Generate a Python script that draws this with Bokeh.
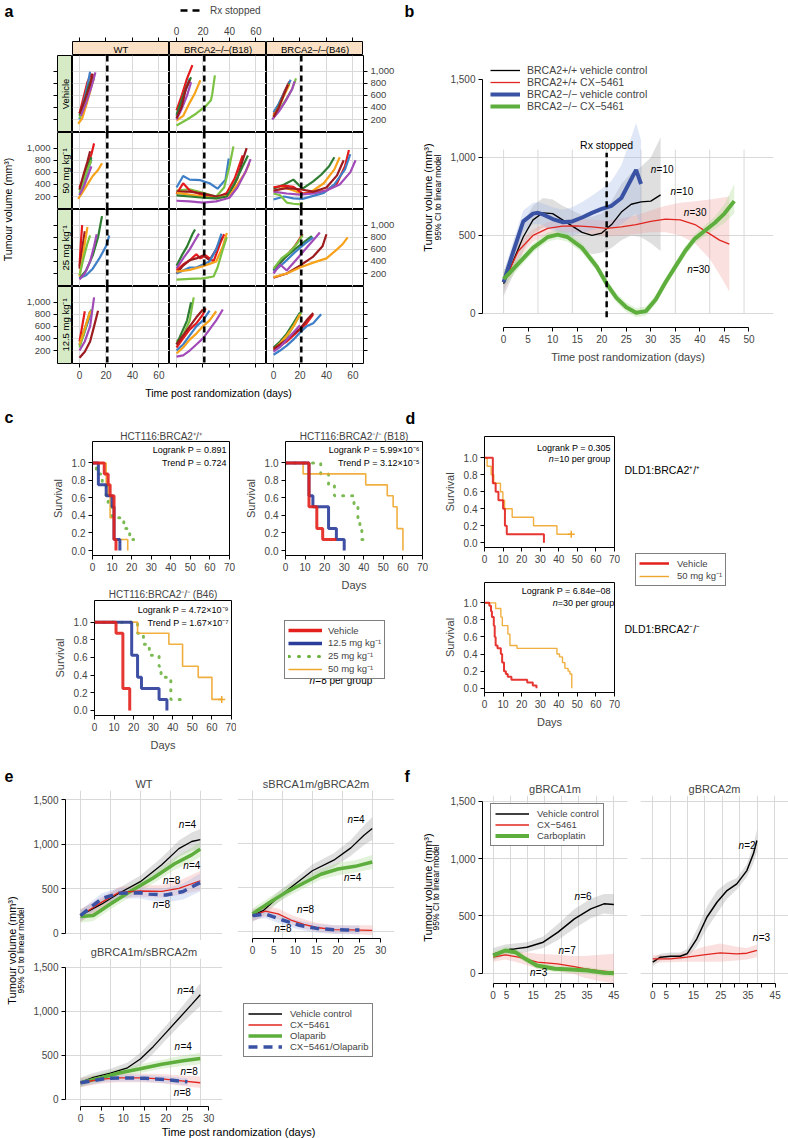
import math
from bokeh.plotting import figure
from bokeh.layouts import row, column
from bokeh.models import (Range1d, LinearAxis, FixedTicker, NumeralTickFormatter,
                          CustomJSTickFormatter, Label, Span, Legend, LegendItem, Spacer, Grid)
from bokeh.embed import file_html
from bokeh.resources import INLINE

FONT = "Liberation Sans"
GRID_C = "#D9D9D9"

# ---------------- panel a data ----------------
A_COLS = ["WT", "BRCA2–/–(B18)", "BRCA2–/–(B46)"]
A_ROWS = ["Vehicle", "50 mg kg⁻¹", "25 mg kg⁻¹", "12.5 mg kg⁻¹"]
A_XTICKS = [0, 20, 40, 60]
A_YTICKS = [200, 400, 600, 800, 1000]
RX_STOP = 21
A_COLORS = {"R": "#E41A1C", "B": "#3F7FC7", "G": "#2E7D32", "L": "#7CC242",
            "O": "#F7A21B", "P": "#A24BB8", "D": "#9B1B1F"}

A_VEH_WT = [("R", [0, 3, 6, 9], [300, 560, 820, 960]),
            ("B", [0, 3, 6, 8], [200, 480, 760, 990]),
            ("G", [0, 4, 7, 10], [260, 520, 760, 920]),
            ("L", [0, 4, 8, 11], [220, 420, 700, 880]),
            ("O", [-1, 2, 5, 8, 10], [130, 220, 430, 660, 860]),
            ("P", [1, 5, 9, 12], [260, 480, 740, 980]),
            ("D", [0, 4, 8, 10], [300, 520, 780, 960])]
A_VEH_B18 = [("R", [0, 4, 8, 12], [350, 600, 880, 1100]),
             ("B", [0, 3, 7, 10], [250, 450, 700, 880]),
             ("G", [0, 4, 8, 11], [280, 520, 760, 900]),
             ("L", [0, 8, 15, 22, 26, 27, 29], [100, 200, 300, 420, 520, 620, 930]),
             ("O", [0, 5, 10, 14, 18], [180, 260, 480, 640, 850]),
             ("P", [0, 4, 8, 11], [200, 380, 600, 820]),
             ("D", [0, 4, 7, 10], [220, 420, 700, 850])]
A_VEH_B46 = [("R", [0, 4, 8, 12], [280, 450, 650, 830]),
             ("B", [0, 4, 8, 13], [320, 460, 640, 860]),
             ("G", [0, 4, 8, 12], [250, 420, 620, 800]),
             ("L", [0, 5, 10, 14, 17], [250, 380, 550, 700, 880]),
             ("O", [0, 4, 8, 12], [260, 400, 600, 780]),
             ("P", [-1, 4, 9, 14, 16], [200, 330, 500, 700, 830]),
             ("D", [0, 4, 8, 11], [240, 400, 620, 780])]
A_50_WT = [("R", [0, 3, 6, 9, 11], [350, 500, 700, 900, 1080]),
           ("B", [0, 3, 6, 9], [220, 420, 620, 810]),
           ("G", [0, 3, 6, 9], [300, 480, 680, 850]),
           ("L", [0, 3, 6, 9], [260, 450, 640, 800]),
           ("O", [-1, 2, 6, 10, 14, 17], [160, 260, 400, 540, 640, 750]),
           ("P", [0, 3, 6, 9], [230, 350, 520, 700]),
           ("D", [0, 3, 6, 8], [320, 560, 780, 950])]
A_50_B18 = [("B", [0, 5, 10, 18, 25, 31, 37, 39.5], [350, 540, 480, 470, 420, 330, 480, 830]),
            ("L", [0, 10, 20, 30, 36, 40, 43], [300, 320, 260, 200, 350, 700, 1030]),
            ("R", [0, 5, 10, 20, 30, 38, 44, 50], [240, 420, 300, 220, 180, 260, 500, 880]),
            ("D", [0, 10, 20, 30, 40, 46, 50, 53], [280, 280, 250, 200, 250, 500, 800, 1000]),
            ("O", [0, 10, 20, 30, 40, 46, 52, 55], [260, 230, 200, 170, 220, 400, 600, 740]),
            ("P", [0, 10, 20, 30, 40, 46, 52, 56], [130, 120, 100, 120, 180, 350, 600, 820]),
            ("G", [0, 10, 20, 30, 38, 44, 50, 54], [220, 200, 180, 170, 200, 420, 700, 880])]
A_50_B46 = [("G", [0, 8, 15, 22, 30, 36, 42, 46], [330, 400, 480, 330, 450, 560, 700, 850]),
            ("O", [0, 8, 15, 22, 30, 38, 46, 50], [280, 350, 300, 240, 300, 420, 650, 850]),
            ("R", [0, 8, 15, 22, 30, 40, 48, 54, 57], [350, 380, 360, 250, 260, 300, 420, 700, 970]),
            ("B", [0, 8, 15, 22, 30, 38, 46, 54, 58], [150, 200, 170, 160, 210, 260, 400, 650, 900]),
            ("L", [0, 5, 10, 15, 20, 22], [250, 220, 100, 80, 70, 100]),
            ("P", [0, 10, 20, 30, 40, 50, 58, 62], [280, 250, 230, 250, 300, 400, 600, 800]),
            ("D", [0, 10, 20, 30, 40, 48, 53], [300, 340, 320, 280, 350, 550, 800])]
A_25_WT = [("R", [0, 1, 2], [320, 700, 1000]),
           ("D", [0, 2, 4], [280, 600, 900]),
           ("O", [0, 2, 4, 6], [150, 400, 700, 970]),
           ("L", [0, 3, 6, 8], [170, 450, 700, 830]),
           ("G", [0, 5, 10, 14, 17], [120, 250, 500, 800, 1150]),
           ("B", [0, 5, 10, 15, 20, 22.5], [120, 170, 280, 450, 650, 830]),
           ("P", [0, 4, 8, 11, 13], [100, 200, 400, 650, 850])]
A_25_B18 = [("G", [0, 4, 8, 12, 14], [330, 500, 650, 850, 930]),
            ("P", [0, 5, 10, 14, 17], [280, 450, 600, 750, 860]),
            ("R", [0, 5, 10, 15, 18, 22, 28, 33, 36], [250, 350, 420, 520, 450, 500, 400, 700, 850]),
            ("D", [0, 5, 10, 15, 20, 25, 30, 34], [200, 330, 420, 450, 500, 420, 600, 800]),
            ("B", [0, 5, 10, 15, 20, 25, 30, 34], [200, 250, 300, 300, 350, 400, 600, 860]),
            ("O", [0, 10, 20, 25, 30, 35, 38], [230, 260, 320, 360, 400, 650, 870]),
            ("L", [0, 10, 20, 28, 31, 35, 38], [100, 110, 120, 150, 300, 600, 800])]
A_25_B46 = [("R", [0, 8, 16, 22], [250, 450, 650, 850]),
            ("D", [0, 10, 20, 30, 37, 40], [130, 200, 330, 480, 650, 850]),
            ("G", [0, 8, 16, 23, 29], [260, 450, 600, 720, 820]),
            ("L", [0, 6, 12, 18, 22], [280, 450, 550, 700, 830]),
            ("B", [0, 8, 16, 24, 30], [230, 380, 550, 700, 800]),
            ("P", [0, 5, 10, 18, 26, 32, 35], [200, 350, 250, 450, 650, 800, 880]),
            ("O", [0, 10, 20, 30, 40, 48, 52, 56], [140, 200, 300, 380, 450, 600, 680, 800])]
A_12_WT = [("R", [0, 2, 4], [350, 600, 850]),
           ("B", [0, 3, 6, 9], [300, 450, 650, 850]),
           ("G", [0, 3, 6, 8], [280, 500, 700, 850]),
           ("L", [0, 3, 6, 9], [250, 450, 700, 880]),
           ("P", [0, 4, 8, 11], [200, 350, 600, 1080]),
           ("O", [0, 3, 6, 8], [300, 500, 700, 850]),
           ("D", [0, 4, 8, 11, 14], [80, 180, 350, 600, 860])]
A_12_B18 = [("L", [0, 5, 10, 13], [350, 450, 700, 1080]),
            ("G", [0, 4, 8, 11], [300, 500, 700, 1000]),
            ("R", [0, 5, 10, 15, 20, 22], [250, 400, 550, 650, 800, 900]),
            ("D", [0, 5, 10, 15, 20], [300, 450, 600, 750, 880]),
            ("B", [0, 5, 10, 15, 20, 25], [200, 300, 450, 600, 700, 860]),
            ("O", [0, 5, 10, 15, 20, 25, 30], [150, 250, 380, 480, 600, 700, 850]),
            ("P", [0, 5, 10, 15, 20, 25, 30, 35], [100, 120, 200, 300, 400, 550, 700, 880])]
A_12_B46 = [("G", [0, 5, 10, 15, 20], [250, 350, 480, 650, 830]),
            ("L", [0, 5, 10, 15, 21], [200, 300, 420, 600, 830]),
            ("O", [0, 5, 10, 15, 20], [220, 320, 450, 600, 800]),
            ("R", [0, 5, 10, 15, 20, 25, 30], [200, 280, 350, 450, 550, 650, 800]),
            ("D", [0, 5, 10, 15, 20, 25, 30], [230, 300, 380, 480, 560, 700, 820]),
            ("B", [0, 5, 10, 15, 20, 25, 30, 36], [130, 200, 280, 380, 500, 600, 650, 800]),
            ("P", [0, 5, 10, 15, 20], [180, 260, 380, 500, 620])]
A_CELLS = [[A_VEH_WT, A_VEH_B18, A_VEH_B46],
           [A_50_WT, A_50_B18, A_50_B46],
           [A_25_WT, A_25_B18, A_25_B46],
           [A_12_WT, A_12_B18, A_12_B46]]

# ---------------- panel b data ----------------
B_VGRID = [0, 7, 14, 21, 28, 35, 42, 49]
B_BLACK_X = [0, 2, 4, 6, 8, 10, 12, 14, 16, 18, 20, 22, 24, 26, 28, 30, 32]
B_BLACK_Y = [190, 340, 490, 600, 645, 640, 600, 560, 520, 500, 515, 570, 650, 700, 715, 720, 760]
B_BLACK_LO = [110, 250, 400, 510, 550, 550, 510, 460, 410, 380, 390, 420, 470, 500, 490, 450, 400]
B_BLACK_HI = [270, 430, 580, 690, 740, 730, 690, 660, 630, 620, 640, 720, 830, 900, 940, 1000, 1130]
B_BLUE_X = [0, 2, 4, 6, 7, 8, 10, 12, 14, 16, 18, 20, 22, 24, 26, 27, 28]
B_BLUE_Y = [200, 400, 590, 640, 645, 635, 605, 585, 590, 615, 645, 670, 690, 740, 860, 920, 830]
B_BLUE_LO = [140, 330, 520, 570, 575, 565, 530, 505, 500, 515, 535, 545, 550, 570, 620, 640, 560]
B_BLUE_HI = [260, 470, 660, 710, 715, 705, 680, 665, 680, 715, 755, 800, 850, 950, 1130, 1220, 1110]
B_RED_X = [0, 3, 6, 9, 12, 15, 18, 21, 24, 27, 30, 33, 36, 39, 42, 44, 46]
B_RED_Y = [200, 400, 500, 545, 560, 562, 555, 545, 555, 570, 590, 605, 600, 570, 510, 470, 445]
B_RED_LO = [140, 350, 460, 505, 520, 520, 510, 495, 500, 510, 520, 520, 500, 450, 350, 250, 140]
B_RED_HI = [260, 450, 540, 585, 600, 605, 600, 595, 610, 630, 660, 690, 710, 720, 730, 740, 750]
B_GREEN_X = [0, 3, 6, 9, 11, 13, 16, 19, 21, 23, 25, 27, 29, 31, 33, 35, 37, 39, 41, 43, 45, 47]
B_GREEN_Y = [220, 320, 420, 490, 505, 490, 420, 300, 190, 100, 40, 5, 15, 90, 200, 300, 400, 480, 530, 580, 640, 720]
B_GREEN_LO = [170, 285, 390, 460, 475, 460, 390, 270, 160, 70, 10, -25, -15, 60, 170, 270, 370, 450, 495, 540, 580, 640]
B_GREEN_HI = [270, 355, 450, 520, 535, 520, 450, 330, 220, 130, 70, 35, 45, 120, 230, 330, 430, 510, 565, 620, 700, 830]

# ---------------- panel c / d data (Kaplan-Meier) ----------------
KM_XTICKS = [0, 10, 20, 30, 40, 50, 60, 70]
KM_YTICKS = [0.0, 0.2, 0.4, 0.6, 0.8, 1.0]
C_WT_VEH_T = [0, 6, 8, 9, 11, 12];             C_WT_VEH_S = [1, .875, .75, .625, .125, 0]
C_WT_12_T = [0, 3, 7, 10, 11, 14];             C_WT_12_S = [1, .75, .625, .5, .125, 0]
C_WT_25_T = [0, 2, 5, 7, 8, 10, 16, 19, 21];   C_WT_25_S = [1, .875, .75, .625, .5, .375, .25, .125, .125]
C_WT_50_T = [0, 7, 8, 9, 11, 18];              C_WT_50_S = [1, .75, .625, .375, .125, 0]
C_B18_VEH_T = [0, 12, 16, 19, 26];             C_B18_VEH_S = [1, .5, .25, .125, .125]
C_B18_12_T = [0, 12, 14, 22, 26, 30];          C_B18_12_S = [1, .625, .5, .25, .125, 0]
C_B18_25_T = [0, 18, 22, 25, 35, 37, 38, 39, 40]; C_B18_25_S = [1, .875, .75, .625, .5, .375, .25, .125, .125]
C_B18_50_T = [0, 9, 41, 52, 55, 57, 60];       C_B18_50_S = [1, .875, .75, .625, .5, .25, 0]
C_B46_VEH_T = [0, 11, 14.5, 18];               C_B46_VEH_S = [1, .875, .25, 0]
C_B46_12_T = [0, 19, 22, 24, 33, 37];          C_B46_12_S = [1, .625, .375, .25, .125, 0]
C_B46_25_T = [0, 22, 25, 28, 33, 34, 39, 47];  C_B46_25_S = [1, .875, .75, .625, .5, .375, .125, .125]
C_B46_50_T = [0, 22, 38, 45, 53, 60, 65];      C_B46_50_S = [1, .875, .75, .5, .375, .125, .125]
C_B46_50_CENS = ([65], [0.125])
D_WT_VEH_T = [0, 4.5, 6, 7.5, 10, 11, 12, 32]
D_WT_VEH_S = [1, .7, .6, .5, .4, .2, .1, 0]
D_WT_50_T = [0, 1.4, 3.6, 5, 8.6, 9.9, 10.8, 14.9, 26.4, 39, 46.7]
D_WT_50_S = [1, .9, .8, .7, .6, .5, .4, .3, .2, .1, .1]
D_WT_50_CENS = ([46.7], [0.1])
D_KO_VEH_T = [0, 2.6, 3.5, 4, 5, 5.5, 6, 7, 8.8, 9.5, 10.5, 11.5, 12.5, 14.5, 23, 26, 28]
D_KO_VEH_S = [1, .967, .9, .833, .733, .6, .5, .467, .4, .3, .2, .167, .133, .1, .067, .033, 0]
D_KO_50_T = [0, 6, 8.8, 9.6, 12.6, 13.7, 17.5, 39, 40.4, 42, 43.3, 45, 46, 47]
D_KO_50_S = [1, .933, .833, .733, .633, .5, .467, .4, .367, .3, .233, .2, .167, 0]

# ---------------- panel e data ----------------
E_VGRID = [0, 7, 14, 21, 28]
E_WT_BLACK_X = [0, 5, 9, 14, 19, 23, 26, 28]
E_WT_BLACK_Y = [200, 330, 450, 580, 770, 950, 1030, 1050]
E_WT_BLACK_LO = [130, 270, 390, 510, 690, 860, 930, 930]
E_WT_BLACK_HI = [270, 390, 510, 650, 850, 1040, 1130, 1170]
E_WT_GREEN_X = [0, 3, 7, 12, 17, 22, 26, 28]
E_WT_GREEN_Y = [190, 200, 330, 480, 620, 780, 880, 945]
E_WT_GREEN_LO = [120, 140, 270, 420, 560, 710, 800, 860]
E_WT_GREEN_HI = [260, 260, 390, 540, 680, 850, 960, 1030]
E_WT_RED_X = [0, 5, 9, 14, 19, 23, 28]
E_WT_RED_Y = [200, 350, 460, 475, 470, 505, 590]
E_WT_RED_LO = [130, 290, 400, 410, 400, 430, 480]
E_WT_RED_HI = [270, 410, 520, 540, 540, 590, 700]
E_WT_BLUE_X = [0, 5, 7, 9, 14, 16, 20, 24, 28]
E_WT_BLUE_Y = [200, 390, 420, 450, 455, 440, 430, 470, 570]
E_WT_BLUE_LO = [140, 330, 360, 390, 390, 370, 350, 380, 470]
E_WT_BLUE_HI = [260, 450, 480, 510, 520, 510, 510, 560, 670]
E_S_BLACK_X = [0, 2.6, 6, 10, 14, 19, 23, 26, 28]
E_S_BLACK_Y = [180, 240, 390, 540, 690, 810, 950, 1090, 1170]
E_S_BLACK_LO = [110, 180, 330, 480, 620, 730, 860, 980, 1040]
E_S_BLACK_HI = [250, 300, 450, 600, 760, 890, 1040, 1200, 1300]
E_S_GREEN_X = [0, 4, 8, 12, 16, 20, 24, 28]
E_S_GREEN_Y = [200, 330, 450, 550, 650, 710, 740, 790]
E_S_GREEN_LO = [140, 270, 390, 490, 590, 640, 670, 710]
E_S_GREEN_HI = [260, 390, 510, 610, 710, 780, 810, 870]
E_S_RED_X = [0, 3, 6, 9, 12, 15, 19, 23, 28]
E_S_RED_Y = [180, 230, 200, 130, 80, 45, 20, 18, 12]
E_S_RED_LO = [120, 170, 140, 80, 30, 0, -25, -30, -40]
E_S_RED_HI = [240, 290, 260, 190, 140, 100, 70, 70, 70]
E_S_BLUE_X = [0, 3, 7, 11, 15, 19, 22, 25]
E_S_BLUE_Y = [180, 200, 130, 70, 35, 20, 18, 18]
E_S_BLUE_LO = [130, 150, 80, 20, -15, -30, -32, -32]
E_S_BLUE_HI = [230, 250, 180, 120, 85, 70, 68, 68]
E_G_BLACK_X = [0, 3, 7, 11, 14, 17, 20, 23, 26, 28]
E_G_BLACK_Y = [195, 250, 300, 360, 460, 600, 760, 920, 1080, 1190]
E_G_BLACK_LO = [140, 200, 250, 300, 390, 520, 680, 830, 970, 1060]
E_G_BLACK_HI = [250, 300, 350, 420, 530, 680, 840, 1010, 1190, 1320]
E_G_GREEN_X = [0, 5, 9, 14, 19, 24, 28]
E_G_GREEN_Y = [190, 250, 300, 350, 400, 440, 466]
E_G_GREEN_LO = [140, 200, 250, 300, 350, 380, 400]
E_G_GREEN_HI = [240, 300, 350, 400, 450, 500, 530]
E_G_RED_X = [0, 5, 9, 14, 19, 23, 28]
E_G_RED_Y = [190, 230, 245, 245, 235, 215, 190]
E_G_RED_LO = [140, 180, 195, 195, 185, 160, 130]
E_G_RED_HI = [240, 280, 295, 295, 290, 275, 260]
E_G_BLUE_X = [0, 6, 11, 15, 20, 25]
E_G_BLUE_Y = [190, 240, 245, 240, 225, 200]
E_G_BLUE_LO = [150, 200, 205, 200, 185, 160]
E_G_BLUE_HI = [230, 280, 285, 280, 265, 240]

# ---------------- panel f data ----------------
F_VGRID = [0, 6.4, 12.8, 19.2, 25.6, 32, 38.4, 44.8]
F_G1_BLACK_X = [0, 4.6, 8, 12.6, 18.7, 24.2, 30.3, 36.4, 41.3, 45]
F_G1_BLACK_Y = [163, 203, 212, 227, 270, 358, 474, 561, 605, 599]
F_G1_BLACK_LO = [110, 160, 170, 185, 220, 290, 390, 480, 520, 510]
F_G1_BLACK_HI = [220, 250, 260, 270, 320, 430, 560, 650, 690, 690]
F_G1_RED_X = [0, 4.6, 9.5, 16.5, 24, 30.3, 34, 40, 45]
F_G1_RED_Y = [140, 160, 140, 96, 81, 58, 40, 20, 8]
F_G1_RED_LO = [100, 120, 90, 40, 20, -10, -40, -70, -90]
F_G1_RED_HI = [180, 200, 190, 170, 160, 150, 150, 160, 170]
F_G1_GREEN_X = [0, 4.6, 8.3, 12, 16.3, 23, 29.1, 35.2, 41.3, 45]
F_G1_GREEN_Y = [154, 198, 183, 125, 67, 38, 32, 23, 3, 0]
F_G1_GREEN_LO = [120, 165, 150, 95, 37, 8, 2, -7, -27, -30]
F_G1_GREEN_HI = [188, 231, 216, 155, 97, 68, 62, 53, 33, 30]
F_G2_BLACK_X = [0, 2.8, 6.5, 10.1, 12.6, 16.2, 19.9, 23.6, 27.3, 30.9, 34.6, 37, 38.3]
F_G2_BLACK_Y = [96, 140, 148, 148, 169, 300, 488, 619, 721, 779, 895, 1041, 1157]
F_G2_BLACK_LO = [60, 110, 120, 120, 130, 230, 390, 520, 650, 730, 840, 960, 1060]
F_G2_BLACK_HI = [130, 170, 180, 180, 210, 380, 580, 720, 790, 830, 950, 1120, 1250]
F_G2_RED_X = [0, 6.5, 12.6, 18.7, 24.8, 30.9, 34.6, 38.3]
F_G2_RED_Y = [125, 125, 140, 160, 177, 169, 174, 198]
F_G2_RED_LO = [90, 95, 100, 100, 100, 110, 120, 140]
F_G2_RED_HI = [160, 155, 180, 230, 260, 230, 220, 250]

# ---------------- colours ----------------
C_BLACK, C_RED, C_BLUE, C_GREEN = "#000000", "#E0261F", "#3A52A4", "#5DAE3C"
BAND_GRAY, BAND_RED, BAND_BLUE, BAND_GREEN = "#9A9A9A", "#F2A0A0", "#9FB3E6", "#A6D98C"
KM_RED, KM_BLUE, KM_GREEN, KM_ORANGE = "#E3201B", "#2A3D9A", "#6DB33F", "#EEA62B"
STRIP_TOP, STRIP_LEFT = "#FAE0C4", "#D6EAC6"


# ---------------- helpers ----------------
def blank(w, h, xr=None, yr=None, bl=0, br=0, bt=0, bb=0):
    p = figure(width=w, height=h, x_range=xr if xr is not None else Range1d(0, 1),
               y_range=yr if yr is not None else Range1d(0, 1),
               output_backend="svg", toolbar_location=None, tools="",
               x_axis_location=None, y_axis_location=None,
               min_border_left=bl, min_border_right=br, min_border_top=bt, min_border_bottom=bb)
    try:
        p.frame_align = False
    except Exception:
        pass
    p.xgrid.visible = False
    p.ygrid.visible = False
    p.outline_line_color = None
    p.background_fill_color = "white"
    p.border_fill_color = "white"
    return p


def canvas(w, h):
    return blank(w, h, Range1d(0, w), Range1d(0, h))


def add_axis(p, side, ticks, fmt=None, show=True, size="10px", bounds=None, line=True,
             label=None, label_size="11px", label_standoff=5):
    ax = LinearAxis(ticker=FixedTicker(ticks=ticks))
    ax.major_tick_in = 0
    ax.major_tick_out = 4
    ax.minor_tick_line_color = None
    ax.axis_line_color = "black" if line else None
    ax.major_label_text_font = FONT
    ax.major_label_text_font_size = size
    ax.major_label_standoff = 3
    ax.axis_label_text_font = FONT
    ax.axis_label_text_font_style = "normal"
    ax.axis_label_text_font_size = label_size
    ax.axis_label_standoff = label_standoff
    if fmt is not None:
        ax.formatter = fmt
    if not show:
        ax.formatter = CustomJSTickFormatter(code="return ''")
    if bounds is not None:
        ax.bounds = bounds
    if label:
        ax.axis_label = label
    p.add_layout(ax, side)
    return ax


def add_grid(p, dim, ticks):
    p.add_layout(Grid(dimension=dim, ticker=FixedTicker(ticks=ticks),
                      grid_line_color=GRID_C, grid_line_width=1))


def txt(p, x, y, s, size="10px", align="left", base="middle", angle=0, style="normal"):
    p.add_layout(Label(x=x, y=y, text=s, text_font=FONT, text_font_size=size,
                       text_align=align, text_baseline=base, angle=angle,
                       text_font_style=style, text_color="black"))


def ctxt(p, x, ytop, s, **kw):
    txt(p, x, p.y_range.end - ytop, s, **kw)


def ntxt(p, x, y, rest, ppu, size=10):
    txt(p, x, y, "n", size=f"{size}px", style="italic")
    txt(p, x + 0.58 * size / ppu, y, rest, size=f"{size}px")


def set_title(p, s, size="10.5px", standoff=2):
    p.title.text = s
    p.title.align = "center"
    p.title.text_font = FONT
    p.title.text_font_size = size
    p.title.text_font_style = "normal"
    p.title.standoff = standoff


def legend(p, items, margin, size="9.5px", gw=30, lh=11, border=True, padding=4, standoff=6):
    lg = Legend(items=items, location="top_left", margin=int(margin), padding=int(padding), spacing=0,
                glyph_width=int(gw), glyph_height=int(lh), label_height=int(lh), label_standoff=int(standoff),
                label_text_font=FONT, label_text_font_size=size,
                border_line_color="black" if border else None, border_line_width=1.2,
                background_fill_color="white", background_fill_alpha=1.0 if border else 0.0)
    p.add_layout(lg)


def key_line(p, **kw):
    # a one-point line draws nothing; it only supplies a legend key
    return p.line(x=[0], y=[0], **kw)


def series(p, specs):
    for x, y, lo, hi, col, lw, bcol, dash in specs:
        p.varea(x=x, y1=lo, y2=hi, fill_color=bcol, fill_alpha=0.32)
    rs = []
    for x, y, lo, hi, col, lw, bcol, dash in specs:
        rs.append(p.line(x=x, y=y, line_color=col, line_width=lw, line_dash=dash))
    return rs


# ================= panel a =================
A_XR = [Range1d(-5.3, 68) for _ in range(3)]
A_YR = [Range1d(-15, 1260) for _ in range(4)]
a_let = canvas(176, 22)
ctxt(a_let, 4, 11, "a", size="16px", style="bold")
a_leg = canvas(224, 22)
r_rx = key_line(a_leg, line_color="black", line_width=2.5, line_dash="7 5")
legend(a_leg, [LegendItem(label="Rx stopped", renderers=[r_rx])], 4, size="10px",
       gw=22, lh=12, border=False, padding=0, standoff=8)

strip_row = [Spacer(width=72, height=33)]
for j in range(3):
    s = blank(97, 33, A_XR[j], Range1d(0, 1), bt=19)
    s.background_fill_color = STRIP_TOP
    s.outline_line_color = "black"
    add_axis(s, "above", A_XTICKS, show=(j == 1), size="10px", line=False)
    txt(s, 31.35, 0.45, A_COLS[j], size="9.5px", align="center")
    strip_row.append(s)

cell_rows = []
for i in range(4):
    last = i == 3
    bb = 20 if last else 0
    h = 77 + bb
    ls = blank(52, h, Range1d(0, 1), A_YR[i], bl=37, bb=bb)
    ls.background_fill_color = STRIP_LEFT
    ls.outline_line_color = "black"
    add_axis(ls, "left", A_YTICKS, fmt=NumeralTickFormatter(format="0,0"),
             show=(i % 2 == 1), size="9.5px", line=False)
    txt(ls, 0.5, 622.5, A_ROWS[i], size="9.5px", align="center", angle=math.pi / 2)
    items = [ls]
    for j in range(3):
        br = 36 if j == 2 else 0
        c = blank(97 + br, h, A_XR[j], A_YR[i], br=br, bb=bb)
        c.outline_line_color = "black"
        add_grid(c, 0, A_XTICKS)
        add_grid(c, 1, A_YTICKS)
        c.add_layout(Span(location=RX_STOP, dimension="height", line_color="black",
                          line_width=2.5, line_dash="6 4"))
        for key, xs, ys in A_CELLS[i][j]:
            c.line(x=xs, y=ys, line_color=A_COLORS[key], line_width=2.2)
        if j == 2:
            add_axis(c, "right", A_YTICKS, fmt=NumeralTickFormatter(format="0,0"),
                     show=(i % 2 == 0), size="9.5px", line=False)
        if last:
            add_axis(c, "below", A_XTICKS, show=(j != 1), size="10px", line=False)
        items.append(c)
    cell_rows.append(row(*items))
a_ytitle = canvas(20, 328)
ctxt(a_ytitle, 7, 154, "Tumour volume (mm³)", size="10.5px", align="center", angle=math.pi / 2)
a_xtitle = canvas(400, 21)
ctxt(a_xtitle, 218, 9, "Time post randomization (days)", size="10.5px", align="center")
a_block = column(row(a_let, a_leg), row(*strip_row), row(a_ytitle, column(*cell_rows)), a_xtitle)

# ================= panel b =================
b_left = canvas(47, 404)
ctxt(b_left, 4, 11, "b", size="16px", style="bold")
ctxt(b_left, 27, 197, "Tumour volume (mm³)", size="11px", align="center", angle=math.pi / 2)
ctxt(b_left, 37.5, 197, "95% CI to linear model", size="8.5px", align="center", angle=math.pi / 2)

pb = blank(341, 404, Range1d(-4.3, 55), Range1d(-90, 1647), bl=35, br=15, bt=56, bb=77)
add_grid(pb, 1, [0, 500, 1000])
pb.segment(x0=B_VGRID, y0=[0] * len(B_VGRID), x1=B_VGRID, y1=[1050] * len(B_VGRID),
           line_color=GRID_C, line_width=1)
rb = series(pb, [
    (B_BLACK_X, B_BLACK_Y, B_BLACK_LO, B_BLACK_HI, C_BLACK, 1.3, BAND_GRAY, "solid"),
    (B_RED_X, B_RED_Y, B_RED_LO, B_RED_HI, C_RED, 1.3, BAND_RED, "solid"),
    (B_BLUE_X, B_BLUE_Y, B_BLUE_LO, B_BLUE_HI, C_BLUE, 4, BAND_BLUE, "solid"),
    (B_GREEN_X, B_GREEN_Y, B_GREEN_LO, B_GREEN_HI, C_GREEN, 4, BAND_GREEN, "solid"),
])
pb.segment(x0=[RX_STOP], y0=[-25], x1=[RX_STOP], y1=[1030], line_color="black",
           line_width=2.5, line_dash="6 4")
txt(pb, RX_STOP, 1080, "Rx stopped", size="10.5px", align="center")
add_axis(pb, "left", [0, 500, 1000, 1500], fmt=NumeralTickFormatter(format="0,0"), bounds=(0, 1500))
add_axis(pb, "below", list(range(0, 51, 5)), bounds=(0, 50), label="Time post randomization (days)")
for x, y, r in [(30, 920, "=10"), (34, 784, "=10"), (36.7, 650, "=30"), (37.4, 280, "=30")]:
    ntxt(pb, x, y, r, 4.907)
legend(pb, [("BRCA2+/+ vehicle control", [rb[0]]), ("BRCA2+/+ CX−5461", [rb[1]]),
            ("BRCA2−/− vehicle control", [rb[2]]), ("BRCA2−/− CX−5461", [rb[3]])],
       8, size="10.5px", gw=30, lh=12, border=False, padding=0, standoff=7)
b_block = row(b_left, pb)


# ================= panel c / d =================
def km(w, h, yr, bl, br, bt, bb, curves, days):
    p = blank(w, h, Range1d(0, 70), Range1d(*yr), bl=bl, br=br, bt=bt, bb=bb)
    p.outline_line_color = "black"
    for t, s, col, lw, dash in curves:
        p.step(x=t, y=s, mode="after", line_color=col, line_width=lw, line_dash=dash,
               line_alpha=0.9, line_cap="round" if dash != "solid" else "butt")
    add_axis(p, "left", KM_YTICKS, fmt=NumeralTickFormatter(format="0.0"), bounds=(0, 1),
             label="Survival", label_size="11px")
    add_axis(p, "below", KM_XTICKS, bounds=(0, 70), label="Days" if days else None)
    return p


DOT = "1 8"
r2_head = canvas(788, 24)
ctxt(r2_head, 4, 13, "c", size="16px", style="bold")
ctxt(r2_head, 405, 14, "d", size="16px", style="bold")

c1 = km(236, 150, (-0.057, 1.245), 92, 7, 12, 23, [
    (C_WT_25_T, C_WT_25_S, KM_GREEN, 3, DOT),
    (C_WT_50_T, C_WT_50_S, KM_ORANGE, 1.6, "solid"),
    (C_WT_12_T, C_WT_12_S, KM_BLUE, 3, "solid"),
    (C_WT_VEH_T, C_WT_VEH_S, KM_RED, 3, "solid")], False)
set_title(c1, "HCT116:BRCA2⁺/⁺", size="10px", standoff=0)
txt(c1, 68.5, 1.143, "Logrank P = 0.891", size="9px", align="right")
txt(c1, 68.5, 0.996, "Trend P = 0.724", size="9px", align="right")

c2 = km(204, 167, (-0.057, 1.245), 49, 18, 12, 40, [
    (C_B18_25_T, C_B18_25_S, KM_GREEN, 3, DOT),
    (C_B18_50_T, C_B18_50_S, KM_ORANGE, 1.6, "solid"),
    (C_B18_12_T, C_B18_12_S, KM_BLUE, 3, "solid"),
    (C_B18_VEH_T, C_B18_VEH_S, KM_RED, 3, "solid")], True)
set_title(c2, "HCT116:BRCA2⁻/⁻ (B18)", size="10px", standoff=0)
txt(c2, 68.5, 1.143, "Logrank P = 5.99×10⁻⁶", size="9px", align="right")
txt(c2, 68.5, 0.996, "Trend P = 3.12×10⁻⁵", size="9px", align="right")

c3 = km(236, 176, (-0.057, 1.245), 94, 5, 22, 39, [
    (C_B46_25_T, C_B46_25_S, KM_GREEN, 3, DOT),
    (C_B46_50_T, C_B46_50_S, KM_ORANGE, 1.6, "solid"),
    (C_B46_12_T, C_B46_12_S, KM_BLUE, 3, "solid"),
    (C_B46_VEH_T, C_B46_VEH_S, KM_RED, 3, "solid")], True)
c3.scatter(x=C_B46_50_CENS[0], y=C_B46_50_CENS[1], marker="cross", size=7, line_color=KM_ORANGE, line_width=1.5)
set_title(c3, "HCT116:BRCA2⁻/⁻ (B46)", size="10px", standoff=2)
txt(c3, 68.5, 1.132, "Logrank P = 4.72×10⁻⁹", size="9px", align="right")
txt(c3, 68.5, 0.985, "Trend P = 1.67×10⁻⁷", size="9px", align="right")

# the legend box of panel c sits at x=284, y=620
legc_box = canvas(156, 134)
lr = [key_line(legc_box, line_color=KM_RED, line_width=3.5),
      key_line(legc_box, line_color=KM_BLUE, line_width=3.5),
      key_line(legc_box, line_color=KM_GREEN, line_width=3, line_dash="1 9", line_cap="round"),
      key_line(legc_box, line_color=KM_ORANGE, line_width=1.6)]
legend(legc_box, [("Vehicle", [lr[0]]), ("12.5 mg kg⁻¹", [lr[1]]), ("25 mg kg⁻¹", [lr[2]]),
                  ("50 mg kg⁻¹", [lr[3]])], 0, size="9.5px", gw=34, lh=12, padding=3, standoff=6)
ntxt(legc_box, 25, 134 - 60, "=8 per group", 1.0, size=10)
legc_wrap = row(Spacer(width=48, height=159), column(Spacer(width=156, height=25), legc_box))

d1 = km(180, 147, (-0.055, 1.25), 43, 6, 8, 28, [
    (D_WT_50_T, D_WT_50_S, KM_ORANGE, 1.4, "solid"),
    (D_WT_VEH_T, D_WT_VEH_S, KM_RED, 2, "solid")], False)
d1.scatter(x=D_WT_50_CENS[0], y=D_WT_50_CENS[1], marker="cross", size=7, line_color=KM_ORANGE, line_width=1.5)
txt(d1, 68, 1.12, "Logrank P = 0.305", size="9px", align="right")
ntxt(d1, 34.6, 0.98, "=10 per group", 1.871, size=9)

d2 = km(180, 179, (-0.05, 1.238), 43, 6, 7, 62, [
    (D_KO_50_T, D_KO_50_S, KM_ORANGE, 1.4, "solid"),
    (D_KO_VEH_T, D_KO_VEH_S, KM_RED, 2, "solid")], True)
txt(d2, 68, 1.133, "Logrank P = 6.84e−08", size="9px", align="right")
ntxt(d2, 36.7, 0.996, "=30 per group", 1.871, size=9)

dr_top = canvas(168, 110)
ctxt(dr_top, 4, 41, "DLD1:BRCA2⁺/⁺", size="10.5px")
dr_bot = canvas(168, 216)
dl = [key_line(dr_bot, line_color=KM_RED, line_width=2.5),
      key_line(dr_bot, line_color=KM_ORANGE, line_width=1.4)]
legend(dr_bot, [("Vehicle", [dl[0]]), ("50 mg kg⁻¹", [dl[1]])], 15, size="9.5px", gw=30, lh=12,
       padding=3, standoff=8)
ctxt(dr_bot, 4, 90, "DLD1:BRCA2⁻/⁻", size="10.5px")

c_block = row(column(c1, c3), column(c2, legc_wrap))
d_block = row(column(d1, d2), column(dr_top, dr_bot))
row2 = column(r2_head, row(c_block, d_block))

# ================= panel e =================
E_XR = (-3.5, 33.2)
E_YR = (-80, 1602)
E_Y_TICKS = [0, 500, 1000, 1500]


def e_plot(w, h, bl, br, bt, bb, specs, title, left, bottom):
    p = blank(w, h, Range1d(*E_XR), Range1d(*E_YR), bl=bl, br=br, bt=bt, bb=bb)
    add_grid(p, 0, E_VGRID)
    add_grid(p, 1, E_Y_TICKS)
    series(p, specs)
    set_title(p, title, size="11px")
    if left:
        add_axis(p, "left", E_Y_TICKS, fmt=NumeralTickFormatter(format="0,0"), bounds=(0, 1500))
    if bottom:
        add_axis(p, "below", [0, 5, 10, 15, 20, 25, 30], bounds=(0, 30))
    return p


e1 = e_plot(200, 186, 35, 8, 36, 0, [
    (E_WT_BLACK_X, E_WT_BLACK_Y, E_WT_BLACK_LO, E_WT_BLACK_HI, C_BLACK, 1.3, BAND_GRAY, "solid"),
    (E_WT_GREEN_X, E_WT_GREEN_Y, E_WT_GREEN_LO, E_WT_GREEN_HI, C_GREEN, 3.5, BAND_GREEN, "solid"),
    (E_WT_RED_X, E_WT_RED_Y, E_WT_RED_LO, E_WT_RED_HI, C_RED, 1.3, BAND_RED, "solid"),
    (E_WT_BLUE_X, E_WT_BLUE_Y, E_WT_BLUE_LO, E_WT_BLUE_HI, C_BLUE, 3.5, BAND_BLUE, "9 6")],
    "WT", True, False)
for x, y, r in [(23, 1223, "=4"), (24, 758, "=4"), (19.3, 598, "=8"), (16.9, 322, "=8")]:
    ntxt(e1, x, y, r, 4.28)
e2 = e_plot(170, 206, 7, 6, 36, 22, [
    (E_S_BLACK_X, E_S_BLACK_Y, E_S_BLACK_LO, E_S_BLACK_HI, C_BLACK, 1.3, BAND_GRAY, "solid"),
    (E_S_GREEN_X, E_S_GREEN_Y, E_S_GREEN_LO, E_S_GREEN_HI, C_GREEN, 3.5, BAND_GREEN, "solid"),
    (E_S_RED_X, E_S_RED_Y, E_S_RED_LO, E_S_RED_HI, C_RED, 1.3, BAND_RED, "solid"),
    (E_S_BLUE_X, E_S_BLUE_Y, E_S_BLUE_LO, E_S_BLUE_HI, C_BLUE, 3.5, BAND_BLUE, "9 6")],
    "sBRCA1m/gBRCA2m", False, True)
for x, y, r in [(22.2, 1269, "=4"), (21.4, 617, "=4"), (10.4, 250, "=8"), (5.1, 38, "=8")]:
    ntxt(e2, x, y, r, 4.28)
e3 = e_plot(200, 184, 35, 8, 18, 18, [
    (E_G_BLACK_X, E_G_BLACK_Y, E_G_BLACK_LO, E_G_BLACK_HI, C_BLACK, 1.3, BAND_GRAY, "solid"),
    (E_G_GREEN_X, E_G_GREEN_Y, E_G_GREEN_LO, E_G_GREEN_HI, C_GREEN, 3.5, BAND_GREEN, "solid"),
    (E_G_RED_X, E_G_RED_Y, E_G_RED_LO, E_G_RED_HI, C_RED, 1.3, BAND_RED, "solid"),
    (E_G_BLUE_X, E_G_BLUE_Y, E_G_BLUE_LO, E_G_BLUE_HI, C_BLUE, 3.5, BAND_BLUE, "9 6")],
    "gBRCA1m/sBRCA2m", True, True)
for x, y, r in [(22.6, 1242, "=4"), (22, 606, "=4"), (23.4, 314, "=8"), (21.8, 83, "=8")]:
    ntxt(e3, x, y, r, 4.28)

lege = blank(170, 164, bt=30)
el = [key_line(lege, line_color=C_BLACK, line_width=1.5),
      key_line(lege, line_color=C_RED, line_width=1.3),
      key_line(lege, line_color=C_GREEN, line_width=3.5),
      key_line(lege, line_color=C_BLUE, line_width=3.5, line_dash="9 6")]
legend(lege, [("Vehicle control", [el[0]]), ("CX−5461", [el[1]]), ("Olaparib", [el[2]]),
              ("CX−5461/Olaparib", [el[3]])], 13, size="9.5px", gw=34, lh=11, padding=4, standoff=8)

ylab_e = canvas(30, 370)
ctxt(ylab_e, 4, 21, "e", size="16px", style="bold")
ctxt(ylab_e, 11, 196, "Tumour volume (mm³)", size="11px", align="center", angle=math.pi / 2)
ctxt(ylab_e, 20.5, 196, "95% CI to linear model", size="8.5px", align="center", angle=math.pi / 2)
xt_e = canvas(400, 14)
ctxt(xt_e, 238, 7, "Time post randomization (days)", size="11px", align="center")

e_block = column(row(ylab_e, column(e1, e3), column(e2, lege)), xt_e)

# ================= panel f =================
F_YR = (-90, 1550)
F_XTICKS = [0, 5, 10, 15, 20, 25, 30, 35, 40, 45]
F_FMT = CustomJSTickFormatter(code="return [0, 5, 15, 25, 35, 45].includes(tick) ? String(tick) : ''")


def f_plot(w, bl, br, xr, specs, title, left):
    p = blank(w, 300, Range1d(*xr), Range1d(*F_YR), bl=bl, br=br, bt=41, bb=71)
    add_grid(p, 0, F_VGRID)
    add_grid(p, 1, E_Y_TICKS)
    rs = series(p, specs)
    set_title(p, title, size="11px")
    if left:
        add_axis(p, "left", E_Y_TICKS, fmt=NumeralTickFormatter(format="0,0"), bounds=(0, 1500))
    add_axis(p, "below", F_XTICKS, fmt=F_FMT, bounds=(0, 45))
    return p, rs


f_left = canvas(47, 300)
ctxt(f_left, 4, 22, "f", size="16px", style="bold")
ctxt(f_left, 27, 133, "Tumour volume (mm³)", size="11px", align="center", angle=math.pi / 2)
ctxt(f_left, 35.5, 133, "95% CI to linear model", size="8.5px", align="center", angle=math.pi / 2)
f1, fr = f_plot(185, 33, 5, (-3.93, 50.07), [
    (F_G1_BLACK_X, F_G1_BLACK_Y, F_G1_BLACK_LO, F_G1_BLACK_HI, C_BLACK, 1.5, BAND_GRAY, "solid"),
    (F_G1_RED_X, F_G1_RED_Y, F_G1_RED_LO, F_G1_RED_HI, C_RED, 1.3, BAND_RED, "solid"),
    (F_G1_GREEN_X, F_G1_GREEN_Y, F_G1_GREEN_LO, F_G1_GREEN_HI, C_GREEN, 4, BAND_GREEN, "solid")],
    "gBRCA1m", True)
legend(f1, [("Vehicle control", [fr[0]]), ("CX−5461", [fr[1]]), ("Carboplatin", [fr[2]])],
       8, size="9.5px", gw=34, lh=11, padding=4, standoff=8)
for x, y, r in [(30.3, 669, "=6"), (24.4, 198, "=7"), (13.8, 9, "=3")]:
    ntxt(f1, x, y, r, 2.72)
f2, _ = f_plot(156, 8, 0, (-4.5, 49.9), [
    (F_G2_BLACK_X, F_G2_BLACK_Y, F_G2_BLACK_LO, F_G2_BLACK_HI, C_BLACK, 1.5, BAND_GRAY, "solid"),
    (F_G2_RED_X, F_G2_RED_Y, F_G2_RED_LO, F_G2_RED_HI, C_RED, 1.3, BAND_RED, "solid")],
    "gBRCA2m", False)
for x, y, r in [(31.5, 1113, "=2"), (36.8, 314, "=3")]:
    ntxt(f2, x, y, r, 2.72)
f_block = row(f_left, f1, f2)

layout = column(row(a_block, b_block), row2, row(e_block, f_block))
open("out.html", "w").write(file_html(layout, INLINE))
